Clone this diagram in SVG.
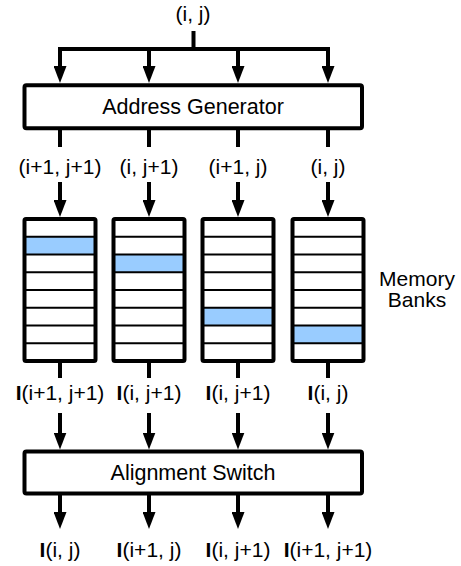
<svg xmlns="http://www.w3.org/2000/svg" width="461" height="566" viewBox="0 0 461 566">
<style>
text{font-family:"Liberation Sans",Arial,sans-serif;fill:#000;text-anchor:middle}
.t{font-size:21.5px}
.m{font-size:21px}
.l{font-size:21px}
.box{fill:#fff;stroke:#000;stroke-width:4}
.bank{fill:none;stroke:#000;stroke-width:4}
.row{stroke:#000;stroke-width:2}
.hl{fill:#99ccff}
.w{fill:none;stroke:#000;stroke-width:4}
.a{fill:none;stroke:#000;stroke-width:4;marker-end:url(#ah)}
</style>
<defs>
<marker id="ah" viewBox="0 0 17 13" refX="2" refY="6.5" markerWidth="17" markerHeight="13" markerUnits="userSpaceOnUse" orient="auto">
<path d="M0,0 L17,6.5 L0,13 Z" fill="#000"/>
</marker>
</defs>
<rect width="461" height="566" fill="#fff"/>

<text class="l" x="193" y="21">(i, j)</text>

<g id="connectors">
<path class="w" d="M193.5,31 V49"/>
<path class="w" d="M58,49 H330"/>
<path class="a" d="M60,49 V68"/>
<path class="a" d="M149,49 V68"/>
<path class="a" d="M238,49 V68"/>
<path class="a" d="M328,49 V68"/>

<path class="w" d="M60,130 V147"/>
<path class="w" d="M149,130 V147"/>
<path class="w" d="M238,130 V147"/>
<path class="w" d="M328,130 V147"/>

<path class="a" d="M60,182 V202"/>
<path class="a" d="M149,182 V202"/>
<path class="a" d="M238,182 V202"/>
<path class="a" d="M328,182 V202"/>

<path class="w" d="M60,362 V378"/>
<path class="w" d="M149,362 V378"/>
<path class="w" d="M238,362 V378"/>
<path class="w" d="M328,362 V378"/>

<path class="a" d="M60,413 V434.5"/>
<path class="a" d="M149,413 V434.5"/>
<path class="a" d="M238,413 V434.5"/>
<path class="a" d="M328,413 V434.5"/>

<path class="a" d="M60,495 V514"/>
<path class="a" d="M149,495 V514"/>
<path class="a" d="M238,495 V514"/>
<path class="a" d="M328,495 V514"/>
</g>

<g id="address-generator">
<rect class="box" x="24.5" y="85.3" width="337.5" height="43" rx="2"/>
<text class="t" x="193" y="113.5">Address Generator</text>
</g>

<g id="addr-labels">
<text class="l" x="60" y="174">(i+1, j+1)</text>
<text class="l" x="149" y="174">(i, j+1)</text>
<text class="l" x="238" y="174">(i+1, j)</text>
<text class="l" x="328" y="174">(i, j)</text>
</g>

<g id="bank1">
<rect class="hl" x="24.5" y="236.75" width="71" height="17.75"/>
<path class="row" d="M24.5,236.75H95.5M24.5,254.5H95.5M24.5,272.25H95.5M24.5,290H95.5M24.5,307.75H95.5M24.5,325.5H95.5M24.5,343.25H95.5"/>
<rect class="bank" x="24.5" y="219" width="71" height="142" rx="1.5"/>
</g>
<g id="bank2">
<rect class="hl" x="113.5" y="254.5" width="71" height="17.75"/>
<path class="row" d="M113.5,236.75H184.5M113.5,254.5H184.5M113.5,272.25H184.5M113.5,290H184.5M113.5,307.75H184.5M113.5,325.5H184.5M113.5,343.25H184.5"/>
<rect class="bank" x="113.5" y="219" width="71" height="142" rx="1.5"/>
</g>
<g id="bank3">
<rect class="hl" x="202.5" y="307.75" width="71" height="17.75"/>
<path class="row" d="M202.5,236.75H273.5M202.5,254.5H273.5M202.5,272.25H273.5M202.5,290H273.5M202.5,307.75H273.5M202.5,325.5H273.5M202.5,343.25H273.5"/>
<rect class="bank" x="202.5" y="219" width="71" height="142" rx="1.5"/>
</g>
<g id="bank4">
<rect class="hl" x="292.5" y="325.5" width="71" height="17.75"/>
<path class="row" d="M292.5,236.75H363.5M292.5,254.5H363.5M292.5,272.25H363.5M292.5,290H363.5M292.5,307.75H363.5M292.5,325.5H363.5M292.5,343.25H363.5"/>
<rect class="bank" x="292.5" y="219" width="71" height="142" rx="1.5"/>
</g>

<g id="memory-banks-label">
<text class="m" x="417" y="286">Memory</text>
<text class="m" x="417" y="307">Banks</text>
</g>

<g id="bank-labels">
<text class="l" x="60" y="400"><tspan font-weight="bold">I</tspan>(i+1, j+1)</text>
<text class="l" x="149" y="400"><tspan font-weight="bold">I</tspan>(i, j+1)</text>
<text class="l" x="238" y="400"><tspan font-weight="bold">I</tspan>(i, j+1)</text>
<text class="l" x="328" y="400"><tspan font-weight="bold">I</tspan>(i, j)</text>
</g>

<g id="alignment-switch">
<rect class="box" x="24.5" y="451.5" width="337.5" height="42" rx="2"/>
<text class="t" x="193" y="479.5">Alignment Switch</text>
</g>

<g id="output-labels">
<text class="l" x="60" y="557"><tspan font-weight="bold">I</tspan>(i, j)</text>
<text class="l" x="149" y="557"><tspan font-weight="bold">I</tspan>(i+1, j)</text>
<text class="l" x="238" y="557"><tspan font-weight="bold">I</tspan>(i, j+1)</text>
<text class="l" x="328" y="557"><tspan font-weight="bold">I</tspan>(i+1, j+1)</text>
</g>
</svg>
